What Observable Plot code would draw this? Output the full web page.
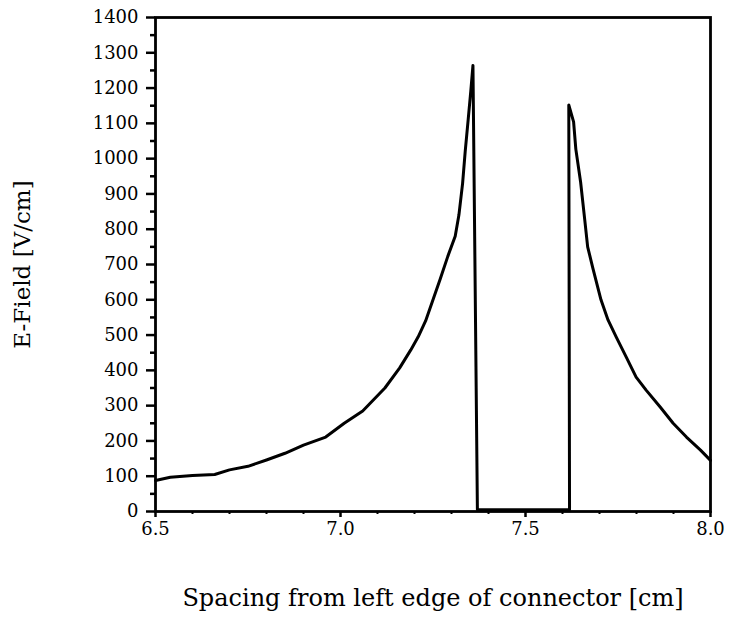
<!DOCTYPE html>
<html>
<head>
<meta charset="utf-8">
<script src="https://cdn.jsdelivr.net/npm/d3@7"></script>
<script src="https://cdn.jsdelivr.net/npm/@observablehq/plot@0.6"></script>
<style>
  html, body { margin: 0; padding: 0; background: #fff; }
  #chart svg { display: block; }
</style>
</head>
<body>
<div id="chart"></div>
<script>
// Spacing from left edge of connector [cm]
const spacing = [
  6.50, 6.54, 6.60, 6.66, 6.70, 6.75, 6.80, 6.85, 6.90, 6.96,
  7.01, 7.06, 7.12, 7.16, 7.19, 7.21, 7.23, 7.25, 7.27, 7.29, 7.31,
  7.32, 7.33, 7.337, 7.345, 7.352, 7.358, 7.37,
  7.619, 7.617, 7.63, 7.636, 7.649, 7.66, 7.668, 7.682, 7.704,
  7.723, 7.745, 7.772, 7.799, 7.826, 7.864, 7.899, 7.935, 7.973, 8.00
];
// E-Field [V/cm]
const efield = [
  88, 97, 102, 105, 118, 128, 146, 165, 188, 211,
  250, 285, 350, 407, 458, 495, 540, 600, 660, 723, 780,
  840, 930, 1020, 1110, 1190, 1264, 5,
  5, 1152, 1104, 1027, 933, 828, 750, 690, 600,
  543, 495, 438, 381, 344, 296, 250, 211, 174, 145
];
const yTicks = [0, 100, 200, 300, 400, 500, 600, 700, 800, 900, 1000, 1100, 1200, 1300, 1400];
const yMinorTicks = [50, 150, 250, 350, 450, 550, 650, 750, 850, 950, 1050, 1150, 1250, 1350];
const xTicks = [6.5, 7.0, 7.5, 8.0];
const xMinorTicks = [6.6, 6.7, 6.8, 6.9, 7.1, 7.2, 7.3, 7.4, 7.6, 7.7, 7.8, 7.9];
const xLabel = "Spacing from left edge of connector [cm]";
const yLabel = "E-Field [V/cm]";

const data = spacing.map((x, i) => ({x, y: efield[i]}));

const chart = Plot.plot({
  width: 729,
  height: 620,
  marginLeft: 155,
  marginRight: 19,
  marginTop: 17,
  marginBottom: 109,
  style: {fontFamily: "'DejaVu Serif', serif", fontSize: "18px", color: "#000", background: "#fff"},
  x: {domain: [6.5, 8.0]},
  y: {domain: [0, 1400]},
  marks: [
    Plot.axisY(yTicks, {tickSize: 9, tickPadding: 8, strokeWidth: 2.5, label: null, fontSize: 18, tickFormat: d3.format("d")}),
    Plot.axisY(yMinorTicks, {tickSize: 5, text: null, strokeWidth: 2.5, label: null}),
    Plot.axisX(xTicks, {tickSize: 6, tickPadding: 5, strokeWidth: 2.5, label: null, tickFormat: d3.format(".1f"), fontSize: 18}),
    Plot.axisX(xMinorTicks, {tickSize: 3, text: null, strokeWidth: 2, label: null}),
    Plot.line(data, {x: "x", y: "y", stroke: "#000", strokeWidth: 3, strokeLinejoin: "round"}),
    Plot.frame({stroke: "#000", strokeWidth: 2.8}),
    Plot.text([xLabel], {frameAnchor: "bottom", dy: 94, fontSize: 24, fill: "#000", textAnchor: "middle"}),
    Plot.text([yLabel], {frameAnchor: "left", dx: -133, rotate: -90, fontSize: 23, fill: "#000", textAnchor: "middle"})
  ]
});
document.getElementById("chart").appendChild(chart);
</script>
</body>
</html>
